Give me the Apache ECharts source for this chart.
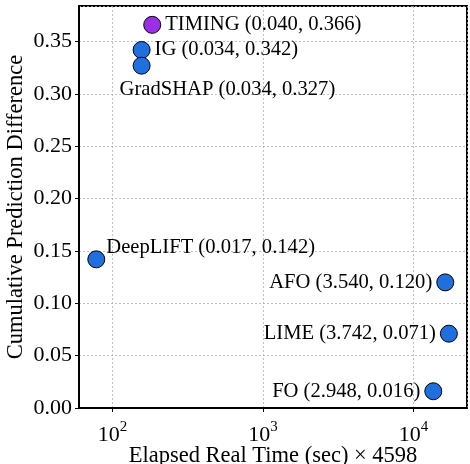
<!DOCTYPE html>
<html>
<head>
<meta charset="utf-8">
<script src="https://cdn.jsdelivr.net/npm/echarts@6/dist/echarts.min.js"></script>
<style>
html,body{margin:0;padding:0;background:#fff;}
#chart{width:470px;height:464px;}
</style>
</head>
<body>
<div id="chart"></div>
<script>
const methods = ['TIMING', 'IG', 'GradSHAP', 'DeepLIFT', 'AFO', 'LIME', 'FO'];
const elapsedSec = [0.040, 0.034, 0.034, 0.017, 3.540, 3.742, 2.948];
const cpd = [0.366, 0.342, 0.327, 0.142, 0.120, 0.071, 0.016];
const timeScale = 4598;
const xTicks = [100, 1000, 10000];
const yTickLabels = ['0.00','0.05','0.10','0.15','0.20','0.25','0.30','0.35'];

const FONT = 'Liberation Serif';
const BLUE = '#1f6fdf';
const PURPLE = '#9b2fe6';

// label placement per point (style only)
const labelCfg = {
  TIMING:   {position: 'right', offset: [0, 0]},
  IG:       {position: 'right', offset: [0, 0]},
  GradSHAP: {position: 'right', offset: [-35, 24]},
  DeepLIFT: {position: 'right', offset: [-3, -12]},
  AFO:      {position: 'left', offset: [0, 0]},
  LIME:     {position: 'left', offset: [0, 0]},
  FO:       {position: 'left', offset: [0, 0]}
};

const data = methods.map((m, i) => ({
  name: m,
  value: [elapsedSec[i] * timeScale, cpd[i]],
  itemStyle: {color: m === 'TIMING' ? PURPLE : BLUE, opacity: 1},
  label: {
    show: true,
    position: labelCfg[m].position,
    offset: labelCfg[m].offset,
    distance: 4,
    formatter: m + ' (' + elapsedSec[i].toFixed(3) + ', ' + cpd[i].toFixed(3) + ')'
  }
}));

const chart = echarts.init(document.getElementById('chart'), null, {renderer: 'canvas'});
chart.setOption({
  animation: false,
  textStyle: {fontFamily: FONT},
  grid: {left: 79, right: 3, top: 6, bottom: 56, containLabel: false, outerBoundsMode: 'none',
         show: true, borderColor: '#000', borderWidth: 2, backgroundColor: 'transparent'},
  xAxis: {
    type: 'log',
    logBase: 10,
    min: 60,
    max: 22700,
    name: 'Elapsed Real Time (sec) \u00d7 4598',
    nameLocation: 'middle',
    nameMoveOverlap: false,
    nameGap: 37,
    nameTextStyle: {fontFamily: FONT, fontSize: 22.5, color: '#000'},
    axisLine: {show: true, lineStyle: {color: '#000', width: 2}},
    axisTick: {show: true, inside: false, length: 4, lineStyle: {color: '#000', width: 1}},
    splitLine: {show: true, lineStyle: {color: '#b0b0b0', type: [2, 2], width: 0.8}},
    axisLabel: {
      showMinLabel: false,
      showMaxLabel: false,
      margin: 12,
      color: '#000',
      formatter: function (v) {
        const e = Math.round(Math.log10(v));
        return '{b|10}{s|' + e + '}';
      },
      rich: {
        b: {fontFamily: FONT, fontSize: 22, color: '#000', lineHeight: 22, padding: [8, 0, 0, 0]},
        s: {fontFamily: FONT, fontSize: 15, color: '#000', lineHeight: 15, verticalAlign: 'top'}
      }
    }
  },
  yAxis: {
    type: 'value',
    min: 0,
    max: 0.384,
    interval: 0.05,
    name: 'Cumulative Prediction Difference',
    nameLocation: 'middle',
    nameMoveOverlap: false,
    nameGap: 51,
    nameTextStyle: {fontFamily: FONT, fontSize: 22.5, color: '#000'},
    axisLine: {show: true, lineStyle: {color: '#000', width: 2}},
    axisTick: {show: true, inside: false, length: 4, lineStyle: {color: '#000', width: 1}},
    splitLine: {show: true, lineStyle: {color: '#b0b0b0', type: [2, 2], width: 0.8}},
    axisLabel: {
      showMaxLabel: false,
      margin: 7,
      fontFamily: FONT,
      fontSize: 22,
      color: '#000',
      formatter: function (v) {
        const idx = Math.round(v / 0.05);
        return yTickLabels[idx] !== undefined ? yTickLabels[idx] : '';
      }
    }
  },
  series: [{
    type: 'scatter',
    symbol: 'circle',
    symbolSize: 17,
    data: data,
    itemStyle: {borderColor: '#000', borderWidth: 1, opacity: 1},
    label: {fontFamily: FONT, fontSize: 20.6, color: '#000'}
  }]
});
</script>
</body>
</html>
